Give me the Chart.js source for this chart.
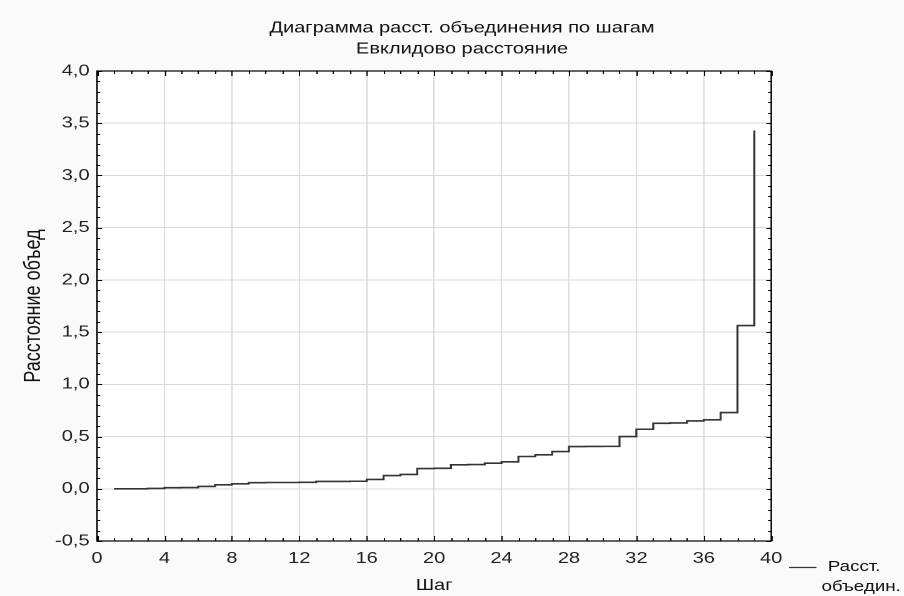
<!DOCTYPE html>
<html>
<head>
<meta charset="utf-8">
<script src="https://cdn.jsdelivr.net/npm/chart.js@4.4.0/dist/chart.umd.min.js"></script>
<style>
    html, body { margin: 0; padding: 0; background: #fafafa; overflow: hidden; }
    #chart { display: block; }
</style>
</head>
<body>
<!-- the reference is stretched sideways, so the canvas is drawn narrow and widened by css -->
<canvas id="chart" width="723" height="596" style="width:904px;height:596px"></canvas>
<script>
var titleLines = ['Диаграмма расст. объединения по шагам', 'Евклидово расстояние'];
var xTitle = 'Шаг';
var yTitle = 'Расстояние объед';
var seriesName = 'Расст. объедин.';

// step number and linkage distance at that step
var steps = [1, 2, 3, 4, 5, 6, 7, 8, 9, 10, 11, 12, 13, 14, 15, 16, 17, 18, 19, 20,
             21, 22, 23, 24, 25, 26, 27, 28, 29, 30, 31, 32, 33, 34, 35, 36, 37, 38, 39];
var distances = [0.0, 0.0, 0.003, 0.01, 0.012, 0.022, 0.038, 0.048, 0.058, 0.06,
                 0.06, 0.062, 0.07, 0.07, 0.072, 0.089, 0.127, 0.137, 0.194, 0.196,
                 0.229, 0.232, 0.245, 0.258, 0.309, 0.325, 0.356, 0.404, 0.405, 0.406,
                 0.50, 0.57, 0.627, 0.63, 0.65, 0.66, 0.73, 1.563, 3.43];

var xMin = 0, xMax = 40, xStep = 4;
var yMin = -0.5, yMax = 4, yStep = 0.5;

var fontFamily = "'Liberation Sans', Arial, sans-serif";

var points = [];
for (var i = 0; i < steps.length; i++) {
    points.push({ x: steps[i], y: distances[i] });
}

var background = {
    id: 'background',
    beforeDraw: function(chart) {
        var ctx = chart.ctx, a = chart.chartArea;
        ctx.save();
        ctx.fillStyle = '#fafafa';
        ctx.fillRect(0, 0, chart.width, chart.height);
        ctx.fillStyle = '#ffffff';
        ctx.fillRect(a.left, a.top, a.right - a.left, a.bottom - a.top);
        ctx.restore();
    }
};

// frame with inward minor / major ticks on all four sides
var frame = {
    id: 'frame',
    afterDraw: function(chart) {
        var ctx = chart.ctx, a = chart.chartArea;
        var xs = chart.scales.x, ys = chart.scales.y;
        ctx.save();
        ctx.strokeStyle = '#000';
        ctx.lineWidth = 1;
        ctx.beginPath();
        for (var v = xMin; v <= xMax; v += 1) {
            var px = Math.round(xs.getPixelForValue(v)) + 0.5;
            var len = (v % xStep === 0) ? 5 : 3;
            ctx.moveTo(px, a.bottom); ctx.lineTo(px, a.bottom - len);
            ctx.moveTo(px, a.top); ctx.lineTo(px, a.top + len);
        }
        for (var k = 0; k <= Math.round((yMax - yMin) * 10); k++) {
            var val = yMin + k / 10;
            var py = Math.round(ys.getPixelForValue(val)) + 0.5;
            var l = (k % 5 === 0) ? 4 : 2.5;
            ctx.moveTo(a.left, py); ctx.lineTo(a.left + l, py);
            ctx.moveTo(a.right, py); ctx.lineTo(a.right - l, py);
        }
        ctx.stroke();
        ctx.lineWidth = 1.2;
        ctx.strokeRect(a.left, a.top, a.right - a.left, a.bottom - a.top);

        // legend, bottom right
        var ds = chart.data.datasets[0];
        ctx.strokeStyle = ds.borderColor;
        ctx.lineWidth = 1.3;
        ctx.beginPath();
        ctx.moveTo(631, 567.5); ctx.lineTo(653, 567.5);
        ctx.stroke();
        var parts = ds.label.split(' ');
        ctx.fillStyle = '#111';
        ctx.font = '15px ' + fontFamily;
        ctx.textBaseline = 'middle';
        ctx.textAlign = 'left';
        ctx.fillText(parts[0], 662, 567);
        ctx.fillText(parts[1], 657, 587);
        ctx.restore();
    }
};

var chart = new Chart(document.getElementById('chart').getContext('2d'), {
    type: 'line',
    data: {
        datasets: [{
            label: seriesName,
            data: points,
            stepped: true,
            borderColor: '#333333',
            borderWidth: 1.6,
            pointRadius: 0,
            fill: false
        }]
    },
    options: {
        responsive: false,
        animation: false,
        devicePixelRatio: 2,
        layout: { padding: { left: 16, right: 0, top: 0, bottom: 0 } },
        plugins: {
            legend: { display: false },
            tooltip: { enabled: false },
            title: {
                display: true,
                text: titleLines,
                color: '#111',
                font: { family: fontFamily, size: 16, weight: 'normal', lineHeight: 1.3125 },
                padding: { top: 17.5, bottom: 11.5 }
            }
        },
        scales: {
            x: {
                type: 'linear',
                min: xMin,
                max: xMax,
                ticks: {
                    stepSize: xStep,
                    color: '#222',
                    padding: 8,
                    font: { family: fontFamily, size: 16 }
                },
                grid: { color: '#d9d9d9', drawTicks: false },
                border: { display: false },
                title: {
                    display: true,
                    text: xTitle,
                    color: '#111',
                    font: { family: fontFamily, size: 16 },
                    padding: { top: 0, bottom: 1 }
                },
                afterFit: function(s) { s.height = 55; }
            },
            y: {
                min: yMin,
                max: yMax,
                ticks: {
                    stepSize: yStep,
                    color: '#222',
                    padding: 6,
                    font: { family: fontFamily, size: 16 },
                    callback: function(v) { return v.toFixed(1).replace('.', ','); }
                },
                grid: { color: '#d9d9d9', drawTicks: false },
                border: { display: false },
                title: {
                    display: true,
                    text: yTitle,
                    color: '#111',
                    font: { family: fontFamily, size: 18 },
                    padding: { top: 0, bottom: 0 }
                },
                afterFit: function(s) { s.width = 61.6; }
            },
            yRight: {
                position: 'right',
                min: yMin,
                max: yMax,
                ticks: { display: false },
                grid: { display: false, drawTicks: false },
                border: { display: false },
                afterFit: function(s) { s.width = 106.2; }
            }
        }
    },
    plugins: [background, frame]
});
</script>
</body>
</html>
